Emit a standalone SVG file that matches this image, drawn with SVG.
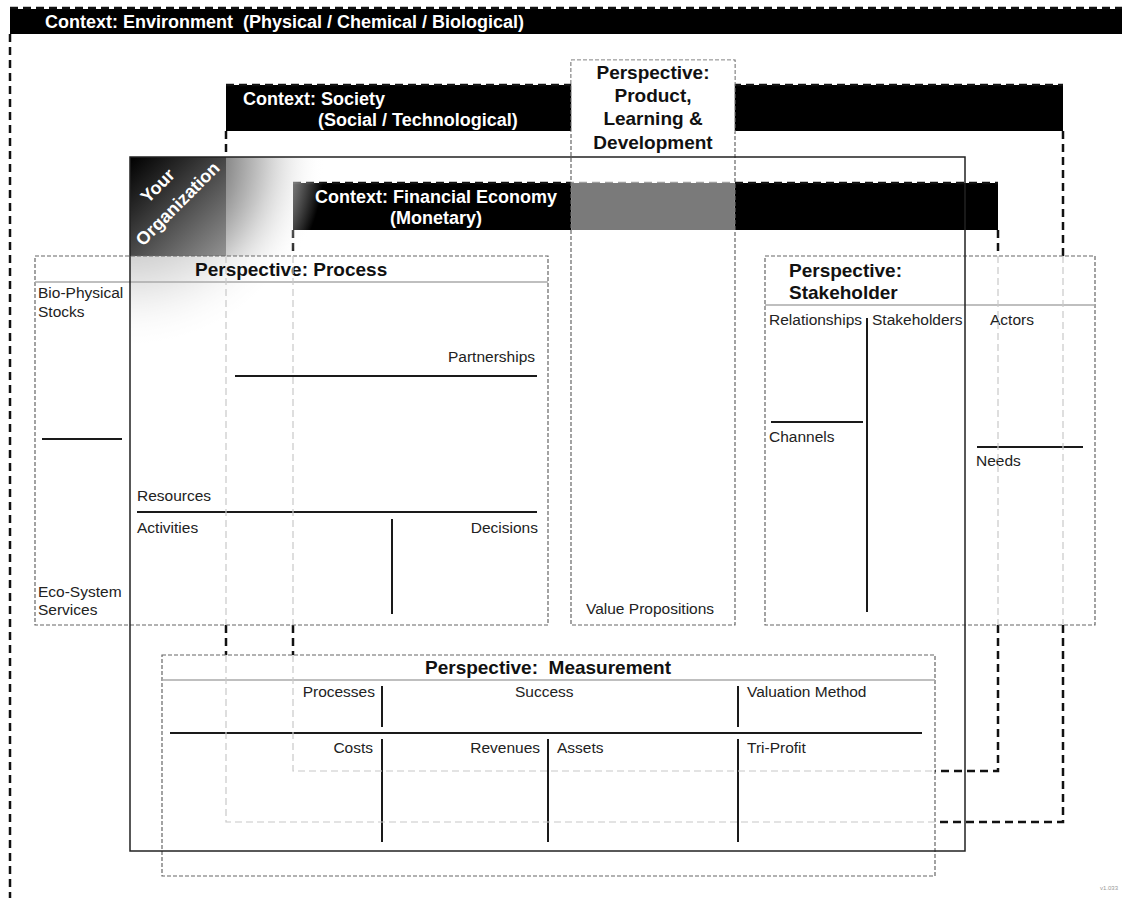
<svg xmlns="http://www.w3.org/2000/svg" width="1122" height="898" viewBox="0 0 1122 898">
  <style>
    .bold { font-family: "Liberation Sans", Arial, sans-serif; font-weight: bold; font-size: 19px; fill: #111; }
    .hdr { font-family: "Liberation Sans", Arial, sans-serif; font-weight: bold; font-size: 18px; fill: #fff; }
    .lbl { font-family: "Liberation Sans", Arial, sans-serif; font-size: 15.5px; fill: #222; }
    .thick { fill: none; stroke: #111; stroke-width: 2.5; stroke-dasharray: 8 5; }
    .faint { fill: none; stroke: #c8c8c8; stroke-width: 1.2; stroke-dasharray: 7 4; }
    .pbox { fill: #fff; fill-opacity: 0.6; stroke: #666; stroke-width: 1.2; stroke-dasharray: 4 2; }
    .sep { stroke: #aaa; stroke-width: 1.5; }
    .div { stroke: #1a1a1a; stroke-width: 2; }
    .org { fill: none; stroke: #222; stroke-width: 1.5; }
  </style>
  <defs>
    <radialGradient id="orgGlow" gradientUnits="userSpaceOnUse" cx="130" cy="157" r="195">
      <stop offset="0" stop-color="#000"/>
      <stop offset="0.45" stop-color="#7c7c7c"/>
      <stop offset="0.7" stop-color="#cdcdcd"/>
      <stop offset="1" stop-color="#fff" stop-opacity="0"/>
    </radialGradient>
    <linearGradient id="orgCorner" gradientUnits="userSpaceOnUse" x1="130" y1="157" x2="226" y2="256">
      <stop offset="0" stop-color="#000"/>
      <stop offset="0.3" stop-color="#2a2a2a"/>
      <stop offset="1" stop-color="#929292"/>
    </linearGradient>
    <clipPath id="orgClip">
      <rect x="130" y="157" width="835" height="694"/>
    </clipPath>
  </defs>

  <rect width="1122" height="898" fill="#fff"/>

  <!-- Context: Environment -->
  <g id="ctx-environment">
    <rect x="10" y="9" width="1112" height="25" fill="#000"/>
    <line x1="10" y1="8" x2="1122" y2="8" class="thick" stroke-width="2"/>
    <line x1="10" y1="34" x2="10" y2="898" class="thick"/>
    <text x="45" y="28" class="hdr" xml:space="preserve">Context: Environment  (Physical / Chemical / Biological)</text>
  </g>

  <!-- Context: Society -->
  <g id="ctx-society">
    <rect x="226" y="85" width="837" height="46" fill="#000"/>
    <line x1="226" y1="85" x2="1063" y2="85" class="thick"/>
    <path d="M226 131 V256 M226 625 V655" class="thick"/>
    <path d="M1063 131 V256 M1063 625 V822 H935" class="thick"/>
    <text x="243" y="105" class="hdr">Context: Society</text>
    <text x="318" y="126" class="hdr">(Social / Technological)</text>
  </g>

  <!-- Context: Financial Economy -->
  <g id="ctx-financial">
    <rect x="293" y="183" width="705" height="47" fill="#000"/>
    <line x1="293" y1="183" x2="998" y2="183" class="thick"/>
    <path d="M293 230 V256 M293 625 V655" class="thick"/>
    <path d="M998 230 V256 M998 625 V771 H935" class="thick"/>
    <text x="315" y="203" class="hdr">Context: Financial Economy</text>
    <text x="390" y="224" class="hdr">(Monetary)</text>
  </g>

  <!-- Your Organization: corner shading -->
  <g id="org-shade" clip-path="url(#orgClip)">
    <rect x="130" y="157" width="220" height="220" fill="url(#orgGlow)"/>
    <rect x="130" y="157" width="96" height="99" fill="url(#orgCorner)"/>
  </g>

  <!-- Perspective: Process -->
  <g id="p-process">
    <rect x="35" y="256" width="513" height="369" class="pbox"/>
    <line x1="35" y1="282" x2="548" y2="282" class="sep"/>
    <text x="195" y="276" class="bold">Perspective: Process</text>
    <text x="38" y="298" class="lbl">Bio-Physical</text>
    <text x="38" y="317" class="lbl">Stocks</text>
    <line x1="42" y1="439" x2="122" y2="439" class="div"/>
    <text x="38" y="597" class="lbl">Eco-System</text>
    <text x="38" y="615" class="lbl">Services</text>
    <text x="535" y="362" class="lbl" text-anchor="end">Partnerships</text>
    <line x1="235" y1="376" x2="537" y2="376" class="div"/>
    <text x="137" y="501" class="lbl">Resources</text>
    <line x1="137" y1="512" x2="537" y2="512" class="div"/>
    <text x="137" y="533" class="lbl">Activities</text>
    <text x="538" y="533" class="lbl" text-anchor="end">Decisions</text>
    <line x1="392" y1="519" x2="392" y2="614" class="div"/>
  </g>

  <!-- Perspective: Product, Learning & Development -->
  <g id="p-product">
    <rect x="571" y="60" width="164" height="565" class="pbox"/>
    <rect x="571.6" y="60.6" width="162.8" height="71.4" fill="#fff"/>
    <rect x="571.6" y="183" width="162.8" height="47" fill="#7a7a7a"/>
    <text x="653" y="79" class="bold" text-anchor="middle">Perspective:</text>
    <text x="653" y="102" class="bold" text-anchor="middle">Product,</text>
    <text x="653" y="125" class="bold" text-anchor="middle">Learning &amp;</text>
    <text x="653" y="149" class="bold" text-anchor="middle">Development</text>
    <text x="586" y="614" class="lbl">Value Propositions</text>
  </g>

  <!-- Perspective: Stakeholder -->
  <g id="p-stakeholder">
    <rect x="765" y="256" width="330" height="369" class="pbox"/>
    <line x1="765" y1="305" x2="1095" y2="305" class="sep"/>
    <text x="789" y="277" class="bold">Perspective:</text>
    <text x="789" y="299" class="bold">Stakeholder</text>
    <text x="769" y="325" class="lbl">Relationships</text>
    <text x="872" y="325" class="lbl">Stakeholders</text>
    <text x="990" y="325" class="lbl">Actors</text>
    <line x1="867" y1="318" x2="867" y2="612" class="div"/>
    <line x1="771" y1="422" x2="863" y2="422" class="div"/>
    <text x="769" y="442" class="lbl">Channels</text>
    <line x1="977" y1="447" x2="1083" y2="447" class="div"/>
    <text x="976" y="466" class="lbl">Needs</text>
  </g>

  <!-- Perspective: Measurement -->
  <g id="p-measurement">
    <rect x="162" y="655" width="773" height="221" class="pbox"/>
    <line x1="162" y1="680" x2="935" y2="680" class="sep"/>
    <text x="425" y="674" class="bold" xml:space="preserve">Perspective:  Measurement</text>
    <text x="375" y="697" class="lbl" text-anchor="end">Processes</text>
    <line x1="382" y1="686" x2="382" y2="727" class="div"/>
    <text x="515" y="697" class="lbl">Success</text>
    <line x1="738" y1="686" x2="738" y2="727" class="div"/>
    <text x="747" y="697" class="lbl">Valuation Method</text>
    <line x1="170" y1="733" x2="922" y2="733" class="div"/>
    <text x="373" y="753" class="lbl" text-anchor="end">Costs</text>
    <line x1="382" y1="739" x2="382" y2="842" class="div"/>
    <text x="540" y="753" class="lbl" text-anchor="end">Revenues</text>
    <line x1="548" y1="739" x2="548" y2="842" class="div"/>
    <text x="557" y="753" class="lbl">Assets</text>
    <line x1="738" y1="739" x2="738" y2="842" class="div"/>
    <text x="747" y="753" class="lbl">Tri-Profit</text>
  </g>

  <!-- context boundaries seen through the perspective boxes -->
  <g id="connectors">
    <path d="M226 256 V625 M293 256 V625" class="faint"/>
    <path d="M998 256 V625 M1063 256 V625" class="faint"/>
    <path d="M226 655 V822 H935" class="faint"/>
    <path d="M293 655 V771 H935" class="faint"/>
  </g>

  <!-- Your Organization -->
  <g id="your-organization">
    <rect x="130" y="157" width="835" height="694" class="org"/>
    <g transform="rotate(-45 162 190)">
      <text x="162" y="190" class="hdr" text-anchor="middle">Your</text>
    </g>
    <g transform="rotate(-45 182 208)">
      <text x="182" y="208" class="hdr" text-anchor="middle">Organization</text>
    </g>
  </g>

  <text x="1100" y="890" font-family="Liberation Sans, Arial, sans-serif" font-size="6" fill="#999">v1.033</text>
</svg>
